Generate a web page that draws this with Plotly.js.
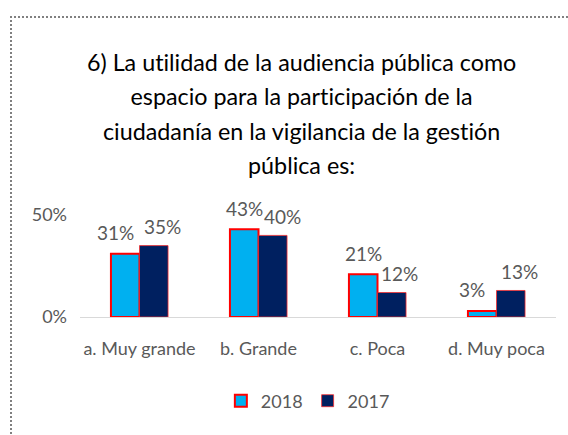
<!DOCTYPE html>
<html>
<head>
<meta charset="utf-8">
<script src="https://cdn.plot.ly/plotly-3.0.1.min.js"></script>
<style>
  html, body { margin: 0; padding: 0; background: #fff; overflow: hidden; }
  #chart { position: absolute; left: 0; top: 0; width: 568px; height: 435px; }
  #frame { position: absolute; left: 10px; top: 16px; width: 600px; height: 440px;
           border-top: 2px dotted #808080; border-left: 2px dotted #808080; pointer-events: none; }
  svg text { font-variant-ligatures: none; font-feature-settings: "liga" 0, "clig" 0; }
</style>
</head>
<body>
<div id="chart"></div>
<div id="frame"></div>
<script>
const categories = ["a. Muy grande", "b. Grande", "c. Poca", "d. Muy poca"];
const series2018 = [0.31, 0.43, 0.21, 0.03];
const series2017 = [0.35, 0.40, 0.12, 0.13];
const seriesNames = ["2018", "2017"];
const titleLines = [
  "6) La utilidad de la audiencia pública como",
  "espacio para la participación de la",
  "ciudadanía en la vigilancia de la gestión",
  "pública es:"
];
// horizontal nudges (px) of the data labels, as placed in the original
const labelNudge2018 = [-10, 0, 0, -10];
const labelNudge2017 = [9, 10, 8, 9];

const FONT = "Lato, 'Open Sans', sans-serif";
const GRAY = "#595959";
const HALF_BAR_PX = 14.3;

const pct = v => Math.round(v * 100) + "%";
const titleText = titleLines.map(s => '<span style="font-size:23.3px">' + s + '</span>').join("<br>");

const traces = [
  {
    type: "bar", name: seriesNames[0], x: categories, y: series2018,
    marker: {color: "#00B0F0", line: {color: "#FF0000", width: 2}},
    hoverinfo: "none"
  },
  {
    type: "bar", name: seriesNames[1], x: categories, y: series2017,
    marker: {color: "#002060", line: {color: "rgba(255,40,40,0.75)", width: 1}},
    hoverinfo: "none"
  }
];

const annotations = [];
categories.forEach((c, i) => {
  annotations.push({
    xref: "x", yref: "y", x: c, y: series2018[i], text: pct(series2018[i]),
    showarrow: false, xanchor: "center", yanchor: "middle",
    xshift: -HALF_BAR_PX + labelNudge2018[i], yshift: 21,
    font: {family: FONT, size: 19, color: GRAY}
  });
  annotations.push({
    xref: "x", yref: "y", x: c, y: series2017[i], text: pct(series2017[i]),
    showarrow: false, xanchor: "center", yanchor: "middle",
    xshift: HALF_BAR_PX + labelNudge2017[i], yshift: 19,
    font: {family: FONT, size: 19, color: GRAY}
  });
});

const layout = {
  width: 568, height: 435,
  paper_bgcolor: "#ffffff", plot_bgcolor: "#ffffff",
  margin: {l: 80, r: 12, t: 215, b: 118, pad: 0},
  font: {family: FONT, color: GRAY, size: 18},
  title: {
    text: titleText,
    font: {family: FONT, size: 26.5, color: "#000000"},
    xref: "container", x: 0.531, xanchor: "center",
    yref: "container", y: 1 - 71/435, yanchor: "top"
  },
  barmode: "group", bargap: 0.52, bargroupgap: 0,
  annotations: annotations,
  xaxis: {
    type: "category", showgrid: false, showline: false, ticks: "",
    tickfont: {family: FONT, size: 18, color: GRAY},
    ticklabelstandoff: 19, fixedrange: true
  },
  yaxis: {
    range: [0, 0.5], dtick: 0.5, tick0: 0, tickformat: ".0%",
    showgrid: true, gridcolor: "#D9D9D9", gridwidth: 1,
    zeroline: true, zerolinecolor: "#D9D9D9", zerolinewidth: 1,
    showline: false, ticks: "",
    tickfont: {family: FONT, size: 18, color: GRAY},
    ticklabelstandoff: 12, fixedrange: true
  },
  showlegend: true,
  legend: {
    orientation: "h", xref: "container", x: 0.542, xanchor: "center",
    yref: "container", y: (435 - 401) / 435, yanchor: "middle",
    font: {family: FONT, size: 18, color: GRAY},
    itemwidth: 30, traceorder: "normal", bgcolor: "rgba(0,0,0,0)"
  }
};

Plotly.newPlot("chart", traces, layout, {staticPlot: true, displayModeBar: false});
</script>
</body>
</html>
